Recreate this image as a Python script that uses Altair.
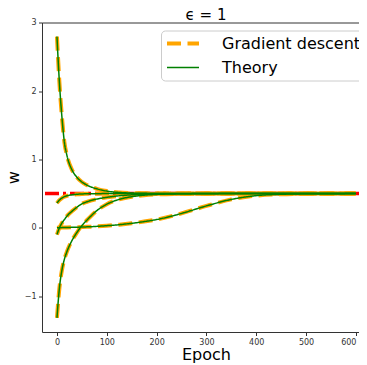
import altair as alt
import pandas as pd

# ---- data ----
epochs = [0, 5, 10, 15, 20, 30, 40, 50, 60, 80, 100, 125, 150, 175, 200,
          250, 300, 350, 400, 450, 500, 550, 600]
w_start_high = [2.80, 2.12, 1.62, 1.25, 1.06, 0.85, 0.74, 0.67, 0.625, 0.57, 0.537,
                0.517, 0.508, 0.504, 0.502, 0.5005, 0.5, 0.5, 0.5, 0.5, 0.5, 0.5, 0.5]
w_start_036 = [0.36, 0.405, 0.435, 0.455, 0.468, 0.482, 0.49, 0.495, 0.497, 0.499, 0.5,
               0.5, 0.5, 0.5, 0.5, 0.5, 0.5, 0.5, 0.5, 0.5, 0.5, 0.5, 0.5]
w_start_m010 = [-0.10, 0.0, 0.07, 0.12, 0.17, 0.24, 0.30, 0.35, 0.38, 0.42, 0.445,
                0.468, 0.482, 0.49, 0.495, 0.499, 0.5, 0.5, 0.5, 0.5, 0.5, 0.5, 0.5]
w_start_zero = [0.0, 0.001, 0.002, 0.003, 0.004, 0.006, 0.008, 0.01, 0.013, 0.02, 0.03,
                0.045, 0.065, 0.09, 0.12, 0.21, 0.32, 0.415, 0.47, 0.49, 0.497, 0.499, 0.5]
w_start_low = [-1.32, -0.88, -0.62, -0.46, -0.35, -0.19, -0.07, 0.03, 0.11, 0.25, 0.345,
               0.415, 0.455, 0.477, 0.488, 0.497, 0.499, 0.5, 0.5, 0.5, 0.5, 0.5, 0.5]
curves = {
    "c1": w_start_high,
    "c2": w_start_036,
    "c3": w_start_m010,
    "c4": w_start_zero,
    "c5": w_start_low,
}
series = ["Gradient descent", "Theory"]
target = [0.5]
x_ticks = [0, 100, 200, 300, 400, 500, 600]
y_ticks = [-1, 0, 1, 2, 3]

rows = []
for name, vals in curves.items():
    for e, w in zip(epochs, vals):
        rows.append({"epoch": e, "w": w, "curve": name})
base = pd.DataFrame(rows)
gd_df = base.assign(series=series[0])
th_df = base.assign(series=series[1])
target_df = pd.DataFrame({"w": target})

PLOT_W, PLOT_H = 317, 309.5
xscale = alt.Scale(domain=[-30, 606.2], nice=False, zero=False)
yscale = alt.Scale(domain=[-1.527, 3.006], nice=False, zero=False)

leg = alt.Legend(symbolType="M-8,0H8", symbolSize=16)
color = alt.Color("series:N", title=None, legend=leg,
                  scale=alt.Scale(domain=series, range=["#ffa500", "#008000"]))
dash = alt.StrokeDash("series:N", title=None, legend=leg,
                      scale=alt.Scale(domain=series, range=[[14, 6.5], [1, 0]]))
width_enc = alt.StrokeWidth("series:N", title=None, legend=leg,
                            scale=alt.Scale(type="ordinal", domain=series, range=[4, 1.5]))

y_axis = alt.Axis(values=y_ticks, title="w", titleAngle=270, titleBaseline="alphabetic",
                  titleAlign="center", titleX=-23.5, titleY=154.75, format="d")

rule = alt.Chart(target_df).mark_rule(
    color="#ff0000", strokeWidth=3.5, strokeDash=[14, 4, 3, 4]
).encode(y=alt.Y("w:Q", scale=yscale, axis=y_axis))

gd = alt.Chart(gd_df).mark_line(interpolate="monotone", strokeCap="butt").encode(
    x=alt.X("epoch:Q", scale=xscale,
            axis=alt.Axis(values=x_ticks, title="Epoch", titleX=164, titleY=27.5,
                          titleBaseline="alphabetic", titleAlign="center", format="d",
                          labelFlush=5)),
    y=alt.Y("w:Q", scale=yscale, axis=y_axis),
    color=color, strokeDash=dash, strokeWidth=width_enc,
    detail="curve:N",
)

th = alt.Chart(th_df).mark_line(interpolate="monotone").encode(
    x=alt.X("epoch:Q", scale=xscale,
            axis=alt.Axis(orient="top", labels=False, ticks=False, title=None)),
    y=alt.Y("w:Q", scale=yscale, axis=y_axis),
    color=color, strokeDash=dash, strokeWidth=width_enc,
    detail="curve:N",
)

chart = alt.layer(rule, gd, th).resolve_axis(x="independent").properties(
    width=PLOT_W,
    height=PLOT_H,
    title=alt.Title("ϵ = 1", frame="group", dy=8),
    padding={"left": 34, "top": 14.5, "right": 0, "bottom": 32},
    autosize=alt.AutoSizeParams(type="none"),
).configure_view(stroke=None).configure_axis(
    labelFont="DejaVu Sans", labelFontSize=8, labelColor="#333333",
    tickColor="#333333", tickSize=3.5, tickWidth=1,
    domainColor="#333333", domainWidth=1, grid=False, labelPadding=2.5,
    titleFont="DejaVu Sans", titleFontSize=16, titleFontWeight="normal", titleColor="#000000",
).configure_legend(
    orient="none", legendX=119, legendY=8, fillColor="white", strokeColor="#cccccc",
    cornerRadius=4, padding=5, labelFont="DejaVu Sans", labelFontSize=16,
    labelColor="#000000", symbolOffset=9, labelOffset=31, rowPadding=8,
).configure_title(
    font="DejaVu Sans", fontSize=15, fontWeight="normal", color="#000000",
    offset=4, baseline="alphabetic", anchor="middle", dx=5.5,
)

chart.save("out.html", embed_options={"renderer": "svg", "actions": False})
